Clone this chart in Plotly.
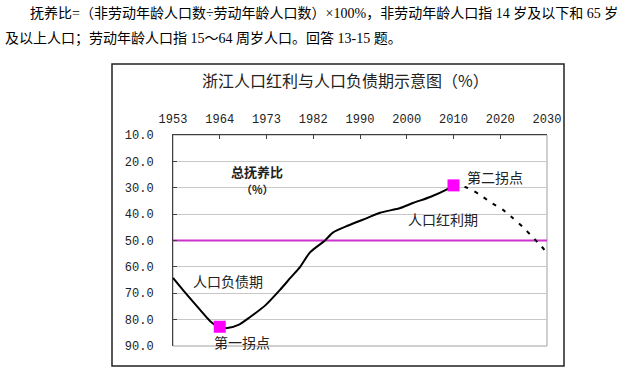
import plotly.graph_objects as go

# ---- data ----
year_labels = ["1953", "1964", "1973", "1982", "1990", "2000", "2010", "2020", "2030"]
year_pos = [0, 1, 2, 3, 4, 5, 6, 7, 8]
y_ticks = [10, 20, 30, 40, 50, 60, 70, 80, 90]
y_tick_text = ["10.0", "20.0", "30.0", "40.0", "50.0", "60.0", "70.0", "80.0", "90.0"]

# total dependency ratio (%), solid part (observed)
solid_x = [0.0, 0.21, 0.58, 0.79, 0.98, 1.16, 1.40, 1.65, 1.98, 2.29, 2.52, 2.72, 2.93, 3.25,
           3.42, 3.75, 4.15, 4.43, 4.86, 5.13, 5.50, 5.86, 6.0]
solid_y = [64.2, 68.7, 76.3, 80.5, 82.8, 83.2, 82.0, 79.0, 74.5, 68.7, 64.0, 60.0, 54.5, 50.0,
           47.0, 44.3, 41.5, 39.5, 37.7, 35.8, 33.5, 30.6, 29.1]
# projected part (dashed)
proj_x = [6.0, 6.29, 6.57, 6.78, 7.06, 7.27, 7.49, 7.68, 7.87, 8.0]
proj_y = [29.1, 30.0, 32.7, 35.4, 38.4, 41.5, 45.0, 48.5, 52.0, 54.7]

turn_x = [1, 6]
turn_y = [82.7, 29.1]

line_50_x = [0, 8]
line_50_y = [50, 50]

# ---- geometry helpers (pixel -> paper) ----
L, R, T, B = 173, 547, 135, 346
W, H = 639, 379
def px(x):
    return (x - L) / (R - L)
def py(y):
    return (B - y) / (B - T)

fig = go.Figure()
fig.add_trace(go.Scatter(x=line_50_x, y=line_50_y, mode="lines",
                         line=dict(color="#cc33cc", width=2), hoverinfo="skip"))
fig.add_trace(go.Scatter(x=solid_x, y=solid_y, mode="lines",
                         line=dict(color="black", width=2, shape="spline", smoothing=0.7)))
fig.add_trace(go.Scatter(x=proj_x, y=proj_y, mode="lines",
                         line=dict(color="black", width=2, dash="4px,7px", shape="spline", smoothing=0.6)))
fig.add_trace(go.Scatter(x=turn_x, y=turn_y, mode="markers",
                         marker=dict(symbol="square", size=12, color="#ff00ff",
                                     line=dict(width=0))))

cjk = "Noto Sans CJK SC"
mono = "Liberation Mono"

fig.update_layout(
    width=W, height=H,
    margin=dict(l=L, r=W - R, t=T, b=H - B, pad=0),
    paper_bgcolor="white", plot_bgcolor="white",
    showlegend=False,
    xaxis=dict(range=[0, 8], side="top", tickmode="array", tickvals=year_pos, ticktext=year_labels,
               showgrid=False, zeroline=False, showline=True, linecolor="#404040", linewidth=1,
               ticks="inside", ticklen=4, tickcolor="#404040",
               tickfont=dict(family=mono, size=12, color="#222"), ticklabelstandoff=6),
    yaxis=dict(range=[90, 10], tickmode="array", tickvals=y_ticks, ticktext=y_tick_text,
               showgrid=True, gridcolor="#c8c8c8", gridwidth=1, zeroline=False,
               showline=True, linecolor="#404040", linewidth=1,
               ticks="inside", ticklen=4, tickcolor="#404040",
               tickfont=dict(family=mono, size=12, color="#222"), ticklabelstandoff=16),
    shapes=[
        dict(type="rect", xref="paper", yref="paper", x0=0, x1=1, y0=0, y1=1,
             line=dict(color="#a0a0a0", width=1), layer="below"),
        dict(type="rect", xref="paper", yref="paper", x0=px(112), x1=px(564), y0=py(366), y1=py(64),
             line=dict(color="#222", width=1.5)),
    ],
)

anns = [
    dict(text="浙江人口红利与人口负债期示意图（%）", xref="paper", yref="paper", x=px(345), y=py(80),
         font=dict(family=cjk, size=16, color="#222")),
    dict(text="<b>总抚养比</b>", x=1.80, y=24.0, font=dict(family=cjk, size=13, color="#222")),
    dict(text="<b>（%）</b>", x=1.80, y=30.6, font=dict(family=cjk, size=11, color="#222")),
    dict(text="第二拐点", x=6.89, y=25.9, font=dict(family=cjk, size=14, color="#222")),
    dict(text="人口红利期", x=5.78, y=41.8, font=dict(family=cjk, size=14, color="#222")),
    dict(text="人口负债期", x=1.18, y=65.3, font=dict(family=cjk, size=14, color="#222")),
    dict(text="第一拐点", x=1.48, y=88.4, font=dict(family=cjk, size=14, color="#222")),
    dict(text="抚养比=（非劳动年龄人口数÷劳动年龄人口数）×100%，非劳动年龄人口指 14 岁及以下和 65 岁",
         xref="paper", yref="paper", x=px(28), y=py(13), xanchor="left",
         font=dict(family="Liberation Serif, " + cjk, size=14, color="black")),
    dict(text="及以上人口；劳动年龄人口指 15～64 周岁人口。回答 13-15 题。",
         xref="paper", yref="paper", x=px(3), y=py(38), xanchor="left",
         font=dict(family="Liberation Serif, " + cjk, size=14, color="black")),
]
for a in anns:
    a.setdefault("showarrow", False)
    a.setdefault("xanchor", "center")
    a.setdefault("yanchor", "middle")
    fig.add_annotation(**a)

fig.write_html("out.html", config={"displayModeBar": False},
               post_script="document.body.style.margin='0';document.body.style.overflow='hidden';")
